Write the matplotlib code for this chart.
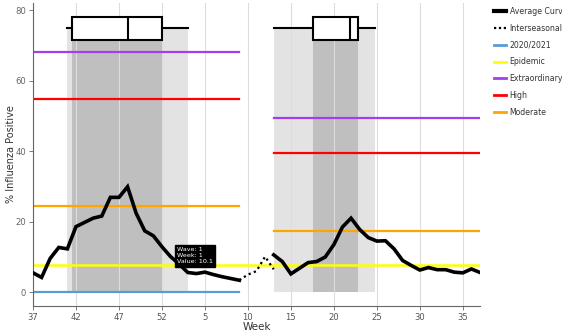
import numpy as np
import matplotlib
matplotlib.use("Agg")
import matplotlib.pyplot as plt
from matplotlib.lines import Line2D

# semanas: 37..52, 1..37 (índice 0..52)
week_labels = [37, 42, 47, 52, 5, 10, 15, 20, 25, 30, 35]
tick_idx = [0, 5, 10, 15, 20, 25, 30, 35, 40, 45, 50]

# curva media - onda 1 (índices 0..24) y onda 2 (índices 28..52)
wave1_idx = list(range(0, 25))
wave1_val = [5.5, 4.2, 9.6, 12.7, 12.3, 18.6, 19.8, 21.0, 21.6, 26.9, 26.9, 29.9,
             22.4, 17.4, 16.0, 12.9, 10.1, 8.0, 5.6, 5.3, 5.7, 5.0, 4.4, 3.9, 3.4]
wave2_idx = list(range(28, 53))
wave2_val = [10.6, 8.7, 5.2, 6.8, 8.4, 8.7, 10.0, 13.5, 18.5, 21.0, 17.8, 15.5, 14.5,
             14.6, 12.3, 9.0, 7.6, 6.3, 7.0, 6.4, 6.4, 5.7, 5.5, 6.6, 5.6]

# interestacional
inter_idx = [24, 25, 26, 27, 28]
inter_val = [3.4, 5.0, 6.0, 10.1, 6.5]

# umbrales por temporada
season1 = [0, 24]
season2 = [28, 52]
extraordinary = [68.0, 49.3]
high = [54.7, 39.4]
moderate = [24.5, 17.4]
epidemic = 7.6
season_2020 = 0.0

# boxplots (inicio / duración de la onda)
box_level = 74.8
box1 = dict(whislo=4.0, q1=4.5, med=11.0, q3=15.0, whishi=18.0)
box2 = dict(whislo=28.0, q1=32.6, med=36.9, q3=37.8, whishi=39.8)

c_blue = "#5b9bd5"
c_yellow = "#ffff00"
c_purple = "#a43cf0"
c_red = "#ff0000"
c_orange = "#ffa500"

fig = plt.figure(figsize=(5.62, 3.30), dpi=100)
ax = fig.add_axes([33 / 562, 1 - 306 / 330, (480 - 33) / 562, 303 / 330])

# zonas sombreadas
for b in (box1, box2):
    ax.fill_between([b["whislo"], b["whishi"]], 0, box_level, color="#e3e3e3", lw=0, zorder=0.8)
    ax.fill_between([b["q1"], b["q3"]], 0, box_level, color="#bfbfbf", lw=0, zorder=0.9)

# umbrales
for i, (a, b) in enumerate((season1, season2)):
    ax.plot([a, b], [extraordinary[i]] * 2, color=c_purple, lw=1.6)
    ax.plot([a, b], [high[i]] * 2, color=c_red, lw=1.6)
    ax.plot([a, b], [moderate[i]] * 2, color=c_orange, lw=1.6)
ax.plot([0, 52], [epidemic] * 2, color=c_yellow, lw=1.8)
ax.plot(season1, [season_2020] * 2, color=c_blue, lw=1.6)

# curvas
ax.plot(wave1_idx, wave1_val, color="black", lw=2.6, solid_joinstyle="miter", zorder=3)
ax.plot(wave2_idx, wave2_val, color="black", lw=2.6, solid_joinstyle="miter", zorder=3)
ax.plot(inter_idx, inter_val, color="black", lw=1.6, ls=(0, (1, 1.5)), zorder=3)

# boxplots
stats = []
for b in (box1, box2):
    s = dict(b)
    s["fliers"] = []
    stats.append(s)
ax.bxp(stats, positions=[box_level, box_level], widths=6.6, orientation="horizontal",
       showcaps=False, showfliers=False, patch_artist=True, manage_ticks=False,
       boxprops=dict(facecolor="white", edgecolor="black", lw=1.5),
       medianprops=dict(color="black", lw=1.5),
       whiskerprops=dict(color="black", lw=1.5), zorder=4)

# tooltip
ax.text(16.75, 10.3, "Wave: 1\nWeek: 1\nValue: 10.1", color="white", fontsize=4.6,
        va="center", ha="left", linespacing=1.25, zorder=6,
        bbox=dict(boxstyle="square,pad=0.35", fc="black", ec="black"))

ax.set_xlim(0, 52)
ax.set_ylim(-3.9, 82)
ax.set_xticks(tick_idx)
ax.set_xticklabels([str(w) for w in week_labels])
ax.set_yticks([0, 20, 40, 60, 80])
ax.grid(axis="x", color="#dddddd", lw=0.8)
for s in ("top", "right"):
    ax.spines[s].set_visible(False)
for s in ("left", "bottom"):
    ax.spines[s].set_color("#666666")
ax.tick_params(labelsize=6.1, colors="#666666", length=3, width=0.6, pad=2)
ax.tick_params(axis="x", labelcolor="#555555")
ax.set_xlabel("Week", fontsize=7.5, color="#333333")
ax.xaxis.set_label_coords(0.5, -0.052)
ax.set_ylabel("% Influenza Positive", fontsize=7.0, color="#333333")
ax.yaxis.set_label_coords(-0.037, 0.5)

handles = [
    Line2D([], [], color="black", lw=3),
    Line2D([], [], color="black", lw=1.6, ls=(0, (1, 1.2))),
    Line2D([], [], color=c_blue, lw=2),
    Line2D([], [], color=c_yellow, lw=2),
    Line2D([], [], color=c_purple, lw=2),
    Line2D([], [], color=c_red, lw=2),
    Line2D([], [], color=c_orange, lw=2),
]
labels = ["Average Curve", "Interseasonal", "2020/2021", "Epidemic", "Extraordinary", "High", "Moderate"]
fig.legend(handles, labels, loc="upper left", bbox_to_anchor=(487 / 562, 1.0), frameon=False,
           fontsize=5.6, handlelength=1.6, handletextpad=0.4, labelspacing=1.0, labelcolor="#333333")

fig.savefig("out.png", dpi=100)
